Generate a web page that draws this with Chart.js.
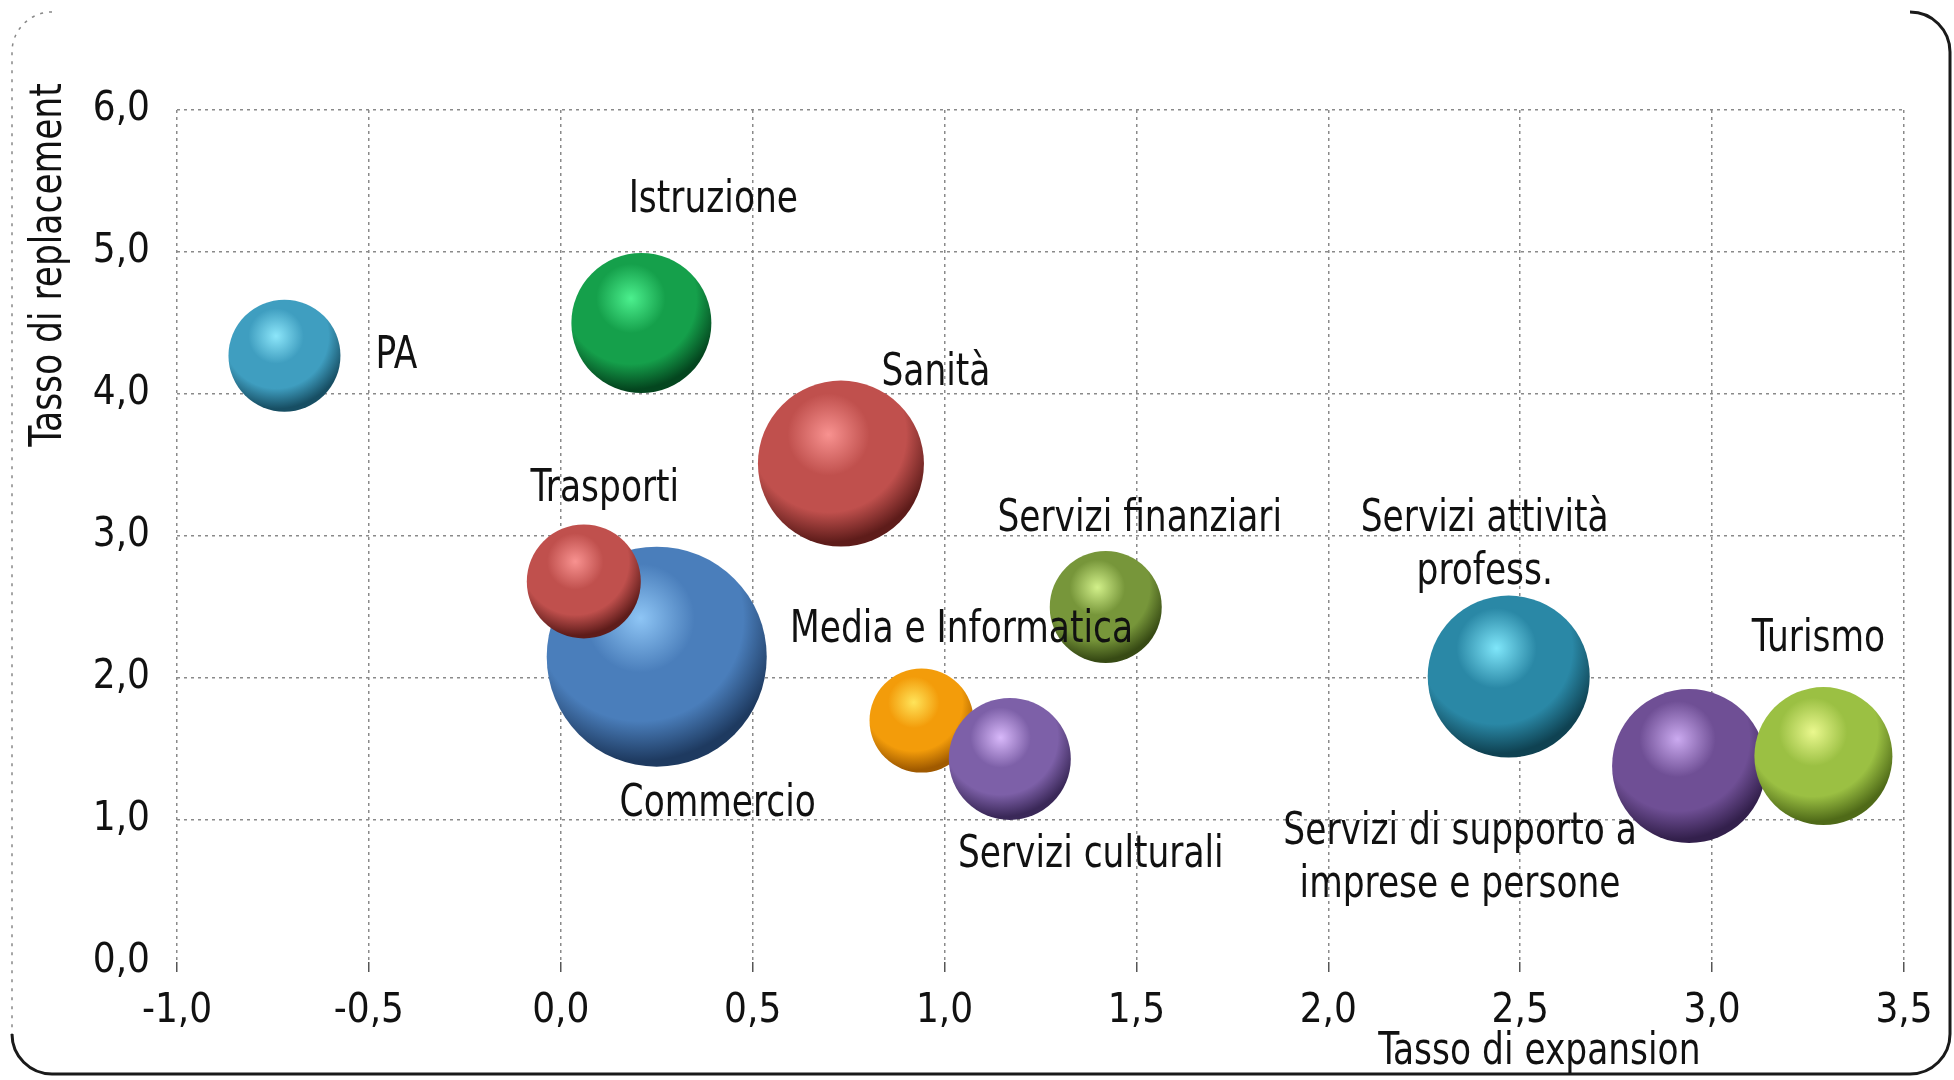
<!DOCTYPE html>
<html>
<head>
    <meta charset="utf-8">
    <title>Tasso di expansion / replacement</title>
    <style>
        body {
            margin: 0;
            background: #fff;
        }
        .container {
            width: 1954px;
            height: 1080px;
        }
    </style>
</head>
<body>
    <div class="container">
        <canvas id="bubbleChart" width="1954" height="1080"></canvas>
    </div>

    <script src="https://cdn.jsdelivr.net/npm/chart.js"></script>
    <script>
        // settori (ordine = ordine di disegno, gli ultimi stanno sopra)
        const settori = ['PA', 'Istruzione', 'Sanità', 'Commercio', 'Trasporti', 'Media e Informatica',
            'Servizi culturali', 'Servizi finanziari', 'Servizi attività\nprofess.',
            'Servizi di supporto a\nimprese e persone', 'Turismo'];
        const tassoExpansion = [-0.72, 0.21, 0.73, 0.25, 0.06, 0.94, 1.17, 1.42, 2.47, 2.94, 3.29];
        const tassoReplacement = [4.27, 4.50, 3.51, 2.15, 2.68, 1.70, 1.43, 2.50, 2.01, 1.38, 1.45];
        const dimensione = [56, 70, 83, 110, 57, 52, 61, 56, 81, 77, 69];
        const xTicks = [-1.0, -0.5, 0.0, 0.5, 1.0, 1.5, 2.0, 2.5, 3.0, 3.5];
        const yTicks = [0, 1, 2, 3, 4, 5, 6];

        const FONT = '"DejaVu Sans Condensed", "Liberation Sans Narrow", sans-serif';

        // colori sfera: [luce, base, ombra]
        const colori = [
            ['#8ce6fa', '#3f9ec0', '#174e63'],
            ['#4cf08e', '#15a04b', '#04461f'],
            ['#f89290', '#c0504d', '#5e1c1a'],
            ['#8ec5f5', '#4a7ebb', '#1e3a60'],
            ['#f89290', '#c0504d', '#5e1c1a'],
            ['#ffe45a', '#f39c0a', '#a05a00'],
            ['#d8b8fa', '#7d60a8', '#3a2858'],
            ['#d2f08a', '#77963a', '#374a14'],
            ['#7fe6fa', '#2a88a6', '#0f4252'],
            ['#cbaaf0', '#6f4f95', '#33204c'],
            ['#eaf88e', '#9bc043', '#4f6a18']
        ];

        // spostamento delle etichette rispetto al centro della bolla
        const posEtichetta = [[112, 1], [72, -122], [95, -90], [61, 148], [21, -92], [40, -90],
            [81, 97], [34, -87], [-24, -131], [-229, 93], [-5, -117]];

        const punti = settori.map((s, i) => ({ x: tassoExpansion[i], y: tassoReplacement[i], r: dimensione[i] }));

        const fmt = v => Number(v).toFixed(1).replace('.', ',');

        // le bolle non devono allargare i margini del grafico
        Chart.BubbleController.prototype.getMaxOverflow = () => false;

        function sfera(context) {
            const c = colori[context.dataIndex] || colori[0];
            const chart = context.chart;
            const raw = context.raw;
            if (!raw || !chart.scales || !chart.scales.x || !chart.scales.y) return c[1];
            const cx = chart.scales.x.getPixelForValue(raw.x);
            const cy = chart.scales.y.getPixelForValue(raw.y);
            const r = raw.r;
            if (![cx, cy, r].every(Number.isFinite)) return c[1];
            const hx = cx - 0.15 * r, hy = cy - 0.35 * r;
            const g = chart.ctx.createRadialGradient(hx, hy, 0, hx, hy, 1.3 * r);
            g.addColorStop(0, c[0]);
            g.addColorStop(0.38, c[1]);
            g.addColorStop(0.72, c[1]);
            g.addColorStop(1, c[2]);
            return g;
        }

        const cornice = {
            id: 'cornice',
            beforeDraw(chart) {
                const ctx = chart.ctx;
                ctx.save();
                ctx.fillStyle = '#fff';
                ctx.fillRect(0, 0, chart.width, chart.height);
                const l = 12, t = 12, r = 1950, b = 1074, rad = 40;
                // lato sinistro, sbiadito
                ctx.strokeStyle = '#888';
                ctx.lineWidth = 1.5;
                ctx.setLineDash([3, 6]);
                ctx.beginPath();
                ctx.moveTo(l + rad, t);
                ctx.arcTo(l, t, l, t + rad, rad);
                ctx.lineTo(l, b - rad);
                ctx.stroke();
                // basso e destra, pieni
                ctx.setLineDash([]);
                ctx.strokeStyle = '#1a1a1a';
                ctx.lineWidth = 3;
                ctx.beginPath();
                ctx.moveTo(l, b - rad);
                ctx.arcTo(l, b, l + rad, b, rad);
                ctx.lineTo(r - rad, b);
                ctx.arcTo(r, b, r, b - rad, rad);
                ctx.lineTo(r, t + rad);
                ctx.arcTo(r, t, r - rad, t, rad);
                ctx.stroke();
                ctx.restore();
            }
        };

        // testo un po' stretto in orizzontale, come nell'originale
        function scrivi(ctx, testo, x, y, rot) {
            ctx.save();
            ctx.translate(x, y);
            if (rot) ctx.rotate(rot);
            ctx.scale(0.87, 1);
            ctx.fillText(testo, 0, 0);
            ctx.restore();
        }

        const etichette = {
            id: 'etichette',
            afterDatasetsDraw(chart) {
                const ctx = chart.ctx;
                const meta = chart.getDatasetMeta(0);
                ctx.save();
                ctx.font = '44px ' + FONT;
                ctx.fillStyle = '#111';
                ctx.textAlign = 'center';
                ctx.textBaseline = 'middle';
                meta.data.forEach((el, i) => {
                    const righe = settori[i].split('\n');
                    const [dx, dy] = posEtichetta[i];
                    righe.forEach((testo, k) => {
                        scrivi(ctx, testo, el.x + dx, el.y + dy + (k - (righe.length - 1) / 2) * 53);
                    });
                });

                // titoli degli assi
                const xs = chart.scales.x;
                scrivi(ctx, 'Tasso di expansion', xs.getPixelForValue(2.55), 1053);
                scrivi(ctx, 'Tasso di replacement', 50, 265, -Math.PI / 2);
                ctx.restore();
            }
        };

        const ctx = document.getElementById('bubbleChart').getContext('2d');
        const chart = new Chart(ctx, {
            type: 'bubble',
            data: {
                labels: settori,
                datasets: [{
                    label: 'Settori',
                    data: punti,
                    backgroundColor: sfera,
                    hoverBackgroundColor: sfera,
                    borderWidth: 0,
                    hoverBorderWidth: 0,
                    clip: false
                }]
            },
            options: {
                responsive: false,
                animation: false,
                events: [],
                layout: {
                    padding: { top: 110, right: 50, left: 0, bottom: 0 }
                },
                plugins: {
                    legend: { display: false },
                    tooltip: { enabled: false }
                },
                scales: {
                    x: {
                        type: 'linear',
                        min: -1,
                        max: 3.5,
                        afterBuildTicks: axis => { axis.ticks = xTicks.map(v => ({ value: v })); },
                        afterFit: axis => { axis.height = 118; },
                        ticks: {
                            callback: v => fmt(v),
                            color: '#111',
                            font: { family: FONT, size: 40 },
                            padding: 16,
                            maxRotation: 0
                        },
                        grid: {
                            color: '#8a8a8a',
                            lineWidth: 1.5,
                            drawTicks: true,
                            tickLength: 10,
                            tickColor: '#555',
                            tickWidth: 1.5,
                            tickBorderDash: []
                        },
                        border: { display: false, dash: [3, 4] }
                    },
                    y: {
                        type: 'linear',
                        min: 0,
                        max: 6,
                        afterBuildTicks: axis => { axis.ticks = yTicks.map(v => ({ value: v })); },
                        afterFit: axis => { axis.width = 177; },
                        ticks: {
                            callback: v => fmt(v),
                            color: '#111',
                            font: { family: FONT, size: 40 },
                            padding: 27
                        },
                        grid: {
                            color: c => (c.tick && c.tick.value === 0 ? 'rgba(0,0,0,0)' : '#8a8a8a'),
                            lineWidth: 1.5,
                            drawTicks: false
                        },
                        border: { display: false, dash: [3, 4] }
                    }
                }
            },
            plugins: [cornice, etichette]
        });
    </script>
</body>
</html>
